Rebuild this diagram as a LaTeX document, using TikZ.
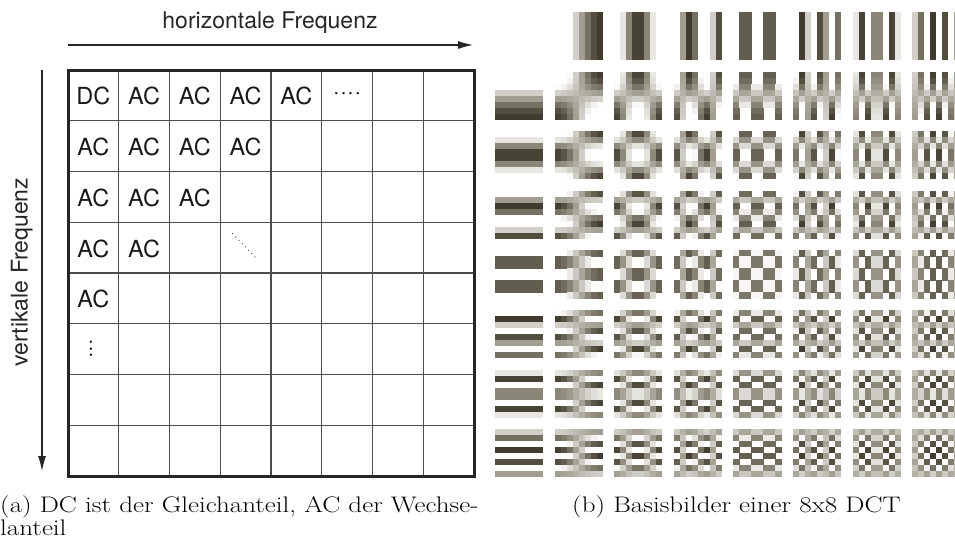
\documentclass[tikz,border=0pt]{standalone}
\usepackage{fontspec}
\usepackage{graphicx}
\newfontfamily\heros{TeX Gyre Heros}
\usetikzlibrary{arrows.meta}

\tikzset{
  freqarrow/.style={line width=1.1pt, draw=black!85, -{Latex[length=15pt,width=8pt]}},
  axislabel/.style={font=\heros\fontsize{23}{27}\selectfont, inner sep=0pt, text=black!85},
  celltext/.style={font=\heros\fontsize{23.5}{27}\selectfont, inner sep=0pt, text=black!90},
  gridline/.style={line width=1.1pt, draw=black!70},
  gridframe/.style={line width=3pt, draw=black!85},
  captext/.style={font=\fontsize{22.5}{26}\selectfont, inner sep=0pt, anchor=base west},
  dotrun/.style={line width=1.3pt, line cap=round, dash pattern=on 0pt off 4.6pt, draw=black!80},
}
% horizontally widened caption text
\newcommand{\widetext}[1]{\scalebox{1.2}[1]{#1}}

\begin{document}
\begin{tikzpicture}[x=1pt, y=1pt]
  \useasboundingbox (0,0) rectangle (955,-547);

  % ---------- coefficient table ----------
  \def\cell{50.75}
  \foreach \k in {1,...,7}{
    \draw[gridline] ({68+\cell*\k},-70) -- ({68+\cell*\k},-476);
    \draw[gridline] (68,{-70-\cell*\k}) -- (474,{-70-\cell*\k});
  }
  \draw[gridframe] (68,-70) rectangle (474,-476);

  \node[celltext] (c-0-0) at ({68+\cell*0.5},{-71-\cell*0.5}) {DC};
  \foreach \r/\c in {0/1,0/2,0/3,0/4,1/0,1/1,1/2,1/3,2/0,2/1,2/2,3/0,3/1,4/0}{
    \node[celltext] (c-\r-\c) at ({68+\cell*(\c+0.5)},{-71-\cell*(\r+0.5)}) {AC};
  }
  \node[celltext] (c-0-5) at ({68+\cell*5.5},{-71-\cell*0.5}) {·\kern0.6pt·\kern0.6pt·\kern0.6pt·};
  \node[celltext, rotate=90] (c-5-0) at ({68+\cell*0.5},{-70-\cell*5.5}) {···};
  \coordinate (c-3-3) at ({68+\cell*3.5},{-70-\cell*3.5});
  \draw[dotrun] ([shift={(-13,14)}]c-3-3) -- ([shift={(11,-11)}]c-3-3);

  % ---------- frequency axes ----------
  \coordinate (hstart) at (68,-45);
  \coordinate (hend) at (473,-45);
  \draw[freqarrow] (hstart) -- (hend);
  \node[axislabel, anchor=base] (hlabel) at (270,-28.5) {horizontale Frequenz};

  \coordinate (vstart) at (42,-70);
  \coordinate (vend) at (42,-471);
  \draw[freqarrow] (vstart) -- (vend);
  \node[axislabel, anchor=base, rotate=90] (vlabel) at (27.5,-272) {vertikale Frequenz};

  % ---------- 8x8 DCT basis images ----------
  \foreach \v in {0,...,7}{
    \foreach \u in {0,...,7}{
      \foreach \yy in {0,...,7}{
        \foreach \xx in {0,...,7}{
          \pgfmathsetmacro\pixp{cos((2*\xx+1)*\u*11.25)*cos((2*\yy+1)*\v*11.25)}
          \pgfmathsetmacro\pixt{min(1,max(0.2,0.725+0.485*\pixp))}
          \ifdim\pixt pt<0.99pt
            \pgfmathsetmacro\pixg{\pixt^1.04}
            \pgfmathsetmacro\pixb{\pixt^1.22}
            \definecolor{pix}{rgb}{\pixt,\pixg,\pixb}
            \fill[pix] ({495+59.6*\u+6*\xx},{-12-59.6*\v-6*\yy}) rectangle ++(6.2,-6.2);
          \fi
        }
      }
    }
  }

  % ---------- captions ----------
  \node[captext] (capa1) at (0,-512) {\widetext{(a) DC ist der Gleichanteil, AC der Wechse-}};
  \node[captext] (capa2) at (0,-535) {\widetext{lanteil}};
  \node[captext] (capb) at (572,-512) {\widetext{(b) Basisbilder einer 8x8 DCT}};
\end{tikzpicture}
\end{document}
